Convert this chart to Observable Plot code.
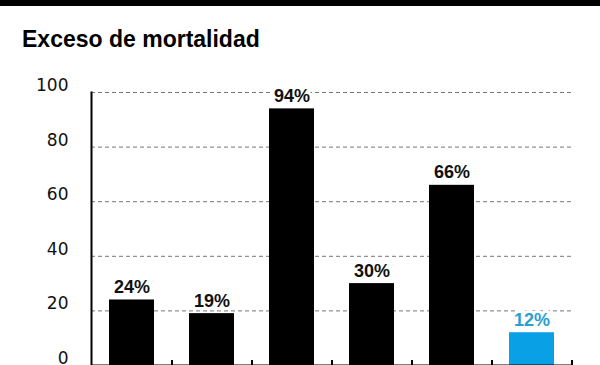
<!DOCTYPE html>
<html>
<head>
<meta charset="utf-8">
<script src="https://cdn.jsdelivr.net/npm/d3@7"></script>
<script src="https://cdn.jsdelivr.net/npm/@observablehq/plot@0.6"></script>
<style>
  html, body { margin: 0; padding: 0; background: #fff; }
  #wrap { position: relative; width: 600px; height: 365px; overflow: hidden; }
  #bar { position: absolute; left: 0; top: 0; width: 600px; height: 6px; background: #000; }
  #title { position: absolute; left: 22px; top: 28px; margin: 0; font: bold 23px/23px "Liberation Sans", Arial, sans-serif; color: #000; }
  #chart { position: absolute; left: 0; top: 60px; }
</style>
</head>
<body>
<div id="wrap">
  <div id="bar"></div>
  <h1 id="title">Exceso de mortalidad</h1>
  <div id="chart"></div>
</div>
<script>
const categories = ["A", "B", "C", "D", "E", "F"];
const values = [24, 19, 94, 30, 66, 12];
const yTicks = [0, 20, 40, 60, 80, 100];
const highlighted = "F";

const data = categories.map((c, i) => ({cat: c, value: values[i]}));
const colorOf = d => d.cat === highlighted ? "#0aa0e6" : "#000";
const labelColorOf = d => d.cat === highlighted ? "#2a9fd0" : "#111";

const chart = Plot.plot({
  width: 600,
  height: 326,
  marginTop: 32,
  marginBottom: 21,
  marginLeft: 91,
  marginRight: 29,
  x: {domain: categories, paddingInner: 0.4375, paddingOuter: 0.21875, axis: null},
  y: {domain: [0, 100], ticks: yTicks, label: null},
  style: {background: "transparent"},
  marks: [
    Plot.gridY(yTicks.filter(t => t > 0), {stroke: "#777", strokeOpacity: 1, strokeWidth: 1, strokeDasharray: "4,3"}),
    Plot.axisY(yTicks, {tickSize: 0, tickPadding: 23, dy: -7, fontSize: 17, fontFamily: "DejaVu Sans", fill: "#111", label: null}),
    Plot.barY(data, {x: "cat", y: "value", fill: colorOf}),
    Plot.text(data, {x: "cat", y: "value", text: d => d.value + "%", dy: -7, lineAnchor: "bottom",
      fontSize: 18, fontWeight: "bold", fontFamily: "Liberation Sans", fill: labelColorOf,
      stroke: "white", strokeWidth: 6, paintOrder: "stroke"}),
    Plot.ruleX(categories, {x: d => d, dx: 40, y1: 0, y2: 1.8, stroke: "#000", strokeWidth: 2}),
    Plot.ruleY([0], {stroke: "#000", strokeWidth: 2}),
    Plot.frame({anchor: "left", stroke: "#000", strokeWidth: 2})
  ]
});
document.getElementById("chart").appendChild(chart);
</script>
</body>
</html>
